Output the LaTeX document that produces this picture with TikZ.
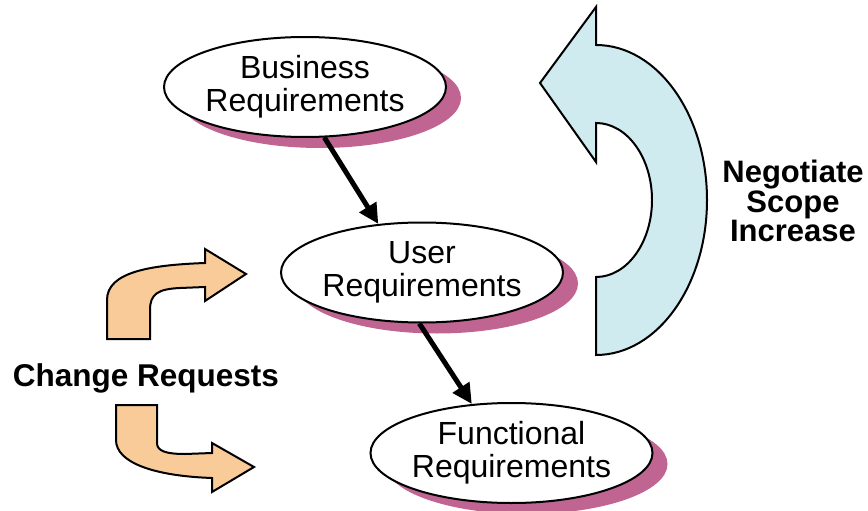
\documentclass[tikz,border=0pt]{standalone}
\usepackage{fontspec}
\setmainfont{Liberation Sans}
\usetikzlibrary{shapes.geometric,arrows.meta,shadows}
\definecolor{shadowpink}{RGB}{192,100,145}
\definecolor{loopblue}{RGB}{207,235,240}
\definecolor{reqorange}{RGB}{249,203,152}
\begin{document}
\begin{tikzpicture}[x=1pt,y=-1pt,
  reqbox/.style={ellipse, draw=black, line width=2pt, fill=white, inner sep=0pt,
    minimum width=282pt, minimum height=100pt, align=center,
    font=\fontsize{32}{33}\selectfont,
    general shadow={fill=shadowpink, draw=none, shadow xshift=15pt, shadow yshift=-11pt}},
  flow/.style={line width=5pt, -{Triangle[length=20pt,width=19pt]}},
  loopshape/.style={draw=black, line width=2pt, line join=miter, fill=loopblue},
  bentshape/.style={draw=black, line width=2pt, line join=miter, fill=reqorange},
  boldlabel/.style={font=\bfseries\fontsize{31}{29.5}\selectfont, align=center, inner sep=0pt}]
\useasboundingbox (0,0) rectangle (868,511);

% curved return arrow on the right
\path[loopshape] (540,83) -- (596,7) -- (596,45)
  arc[start angle=-90, end angle=90, x radius=111, y radius=155]
  -- (596,277)
  arc[start angle=90, end angle=-90, x radius=56, y radius=77]
  -- (596,162) -- cycle;

% bent arrows for change requests
\path[bentshape] (107,339) -- (107,300)
  .. controls (107,272) and (150,265) .. (205,263)
  -- (205,249) -- (246,274) -- (205,301) -- (205,287)
  -- (180,288) .. controls (158,289) and (150,294) .. (150,310)
  -- (150,339) -- cycle;
\path[bentshape] (116,405) -- (157,405) -- (157,443)
  .. controls (157,451) and (166,454) .. (185,454)
  -- (212,453) -- (212,443) -- (254,467) -- (212,492) -- (212,478)
  .. controls (155,476) and (116,463) .. (116,440)
  -- cycle;

% requirement levels
\node[reqbox] (biz) at (305,87) {Business\\Requirements};
\node[reqbox] (user) at (422,272.5) {User\\Requirements};
\node[reqbox] (func) at (511.5,453) {Functional\\Requirements};

\draw[flow] (biz.291) -- (user.132);
\draw[flow] (user.267) -- (func.129);

% labels
\node[boldlabel] (scope) at (793,201) {Negotiate\\Scope\\Increase};
\node[boldlabel, anchor=base, font=\bfseries\fontsize{31.5}{30}\selectfont] (changes) at (146,386) {Change Requests};
\end{tikzpicture}
\end{document}
